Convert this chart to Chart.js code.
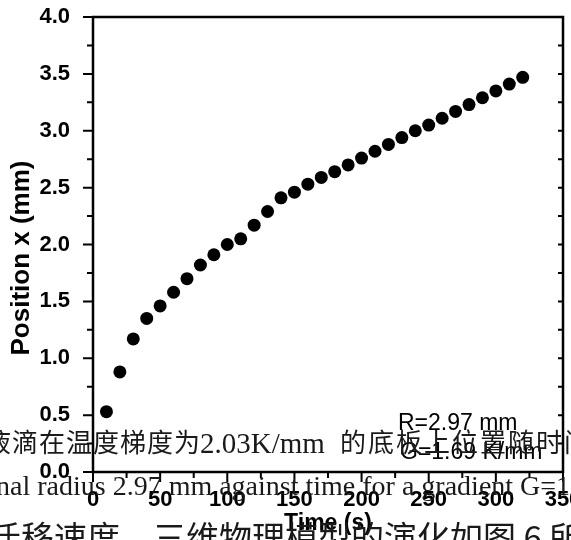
<!DOCTYPE html>
<html>
<head>
<meta charset="utf-8">
<script src="https://cdn.jsdelivr.net/npm/chart.js@4"></script>
<style>
    html, body { margin: 0; padding: 0; background: #fff; }
    #wrap { width: 571px; height: 540px; position: relative; }
</style>
</head>
<body>
<div id="wrap"><canvas id="chartPosition"></canvas></div>
<script>
// droplet position vs time
var times = [10, 20, 30, 40, 50, 60, 70, 80, 90, 100, 110, 120, 130, 140, 150, 160,
    170, 180, 190, 200, 210, 220, 230, 240, 250, 260, 270, 280, 290, 300, 310, 320];
var positions = [0.53, 0.88, 1.17, 1.35, 1.46, 1.58, 1.70, 1.82, 1.91, 2.00, 2.05, 2.17, 2.29, 2.41, 2.46, 2.53,
    2.59, 2.64, 2.70, 2.76, 2.82, 2.88, 2.94, 3.00, 3.05, 3.11, 3.17, 3.23, 3.29, 3.35, 3.41, 3.47];

var xTicks = [0, 50, 100, 150, 200, 250, 300, 350];
var yTicks = [0, 0.5, 1, 1.5, 2, 2.5, 3, 3.5, 4];
var yTickLabels = ['0.0', '0.5', '1.0', '1.5', '2.0', '2.5', '3.0', '3.5', '4.0'];

var xTitle = 'Time (s)';
var yTitle = 'Position x (mm)';
var notes = ['R=2.97 mm', 'G=1.69 K/mm'];

// text of the surrounding page that runs across the figure
var pageLine1 = ['液滴在温度梯度为', '2.03K/mm', '的底板上位置随时间'];
var pageLine2 = 'nal radius 2.97 mm against time for a gradient G=1';
var pageLine3 = '迁移速度，三维物理模型的演化如图 6 所示，过';

(function () {
    'use strict';

    var SANS = "'Liberation Sans', Arial, sans-serif";
    var SERIF = "'Liberation Serif', 'Noto Sans CJK SC', serif";
    var CJK = "'Noto Sans CJK SC', sans-serif";

    // draw a run of CJK characters with a fixed advance
    function spaced(ctx, str, x, y, pitch) {
        var chars = Array.from(str);
        for (var i = 0; i < chars.length; i++) {
            ctx.fillText(chars[i], x + i * pitch, y);
        }
    }

    var framePlugin = {
        id: 'frame',
        afterDraw: function (chart) {
            var ctx = chart.ctx;
            var a = chart.chartArea;
            var xs = chart.scales.x;
            var ys = chart.scales.y;
            var v, p, major;

            ctx.save();
            ctx.strokeStyle = '#000';
            ctx.lineWidth = 2;
            ctx.beginPath();
            for (v = 0; v <= 350; v += 25) {
                p = xs.getPixelForValue(v);
                major = v % 50 === 0;
                ctx.moveTo(p, a.bottom);
                ctx.lineTo(p, a.bottom + (major ? 10 : 6));
            }
            for (v = 0; v <= 4; v += 0.25) {
                p = ys.getPixelForValue(v);
                major = Math.round(v * 4) % 2 === 0;
                ctx.moveTo(a.left, p);
                ctx.lineTo(a.left - (major ? 10 : 6), p);
                ctx.moveTo(a.right, p);
                ctx.lineTo(a.right - 5, p);
            }
            ctx.stroke();

            ctx.lineWidth = 2.5;
            ctx.strokeRect(a.left, a.top, a.right - a.left, a.bottom - a.top);

            ctx.fillStyle = '#000';
            ctx.save();
            ctx.translate(22, 258);
            ctx.rotate(-Math.PI / 2);
            ctx.font = 'bold 26px ' + SANS;
            ctx.textAlign = 'center';
            ctx.textBaseline = 'middle';
            ctx.fillText(yTitle, 0, 0);
            ctx.restore();

            ctx.font = '23px ' + SANS;
            ctx.textAlign = 'left';
            ctx.textBaseline = 'alphabetic';
            ctx.fillText(notes[0], 398, 430);
            ctx.fillText(notes[1], 400, 459);

            ctx.fillStyle = '#1a1a1a';
            ctx.font = '26px ' + CJK;
            spaced(ctx, pageLine1[0], -15, 452, 27);
            ctx.font = '29px ' + SERIF;
            ctx.fillText(pageLine1[1], 200, 453);
            ctx.font = '26px ' + CJK;
            spaced(ctx, pageLine1[2], 340, 452, 28);
            ctx.font = '28px ' + SERIF;
            ctx.fillText(pageLine2, -4, 495);
            ctx.font = '33px ' + CJK;
            ctx.fillText(pageLine3, -12, 550);
            ctx.restore();
        }
    };

    function initChart() {
        var canvas = document.getElementById('chartPosition');
        var points = times.map(function (t, i) { return { x: t, y: positions[i] }; });

        new Chart(canvas, {
            type: 'scatter',
            data: {
                datasets: [{
                    data: points,
                    backgroundColor: '#000',
                    borderWidth: 0,
                    pointRadius: 6.5,
                    pointHoverRadius: 6.5
                }]
            },
            options: {
                responsive: true,
                maintainAspectRatio: false,
                animation: false,
                events: [],
                layout: { padding: { top: 17, right: 8, left: 0, bottom: 0 } },
                plugins: {
                    legend: { display: false },
                    tooltip: { enabled: false }
                },
                scales: {
                    x: {
                        type: 'linear',
                        min: 0,
                        max: 350,
                        grid: { display: false },
                        border: { display: false },
                        afterBuildTicks: function (s) {
                            s.ticks = xTicks.map(function (v) { return { value: v }; });
                        },
                        afterFit: function (s) {
                            s.height = 68;
                            s.paddingLeft = 0;
                            s.paddingRight = 0;
                        },
                        ticks: {
                            maxRotation: 0,
                            autoSkip: false,
                            padding: 7,
                            color: '#000',
                            font: { family: SANS, size: 22, weight: 'bold' }
                        },
                        title: {
                            display: true,
                            text: xTitle,
                            color: '#000',
                            padding: { top: 0, bottom: 3 },
                            font: { family: SANS, size: 23, weight: 'bold' }
                        }
                    },
                    y: {
                        type: 'linear',
                        min: 0,
                        max: 4,
                        grid: { display: false },
                        border: { display: false },
                        afterBuildTicks: function (s) {
                            s.ticks = yTicks.map(function (v) { return { value: v }; });
                        },
                        afterFit: function (s) {
                            s.width = 93;
                            s.paddingTop = 0;
                            s.paddingBottom = 0;
                        },
                        ticks: {
                            autoSkip: false,
                            padding: 15,
                            color: '#000',
                            font: { family: SANS, size: 22, weight: 'bold' },
                            callback: function (val, i) { return yTickLabels[i]; }
                        }
                    }
                }
            },
            plugins: [framePlugin]
        });
    }

    if (document.readyState === 'loading') {
        document.addEventListener('DOMContentLoaded', initChart);
    } else {
        initChart();
    }
})();
</script>
</body>
</html>
